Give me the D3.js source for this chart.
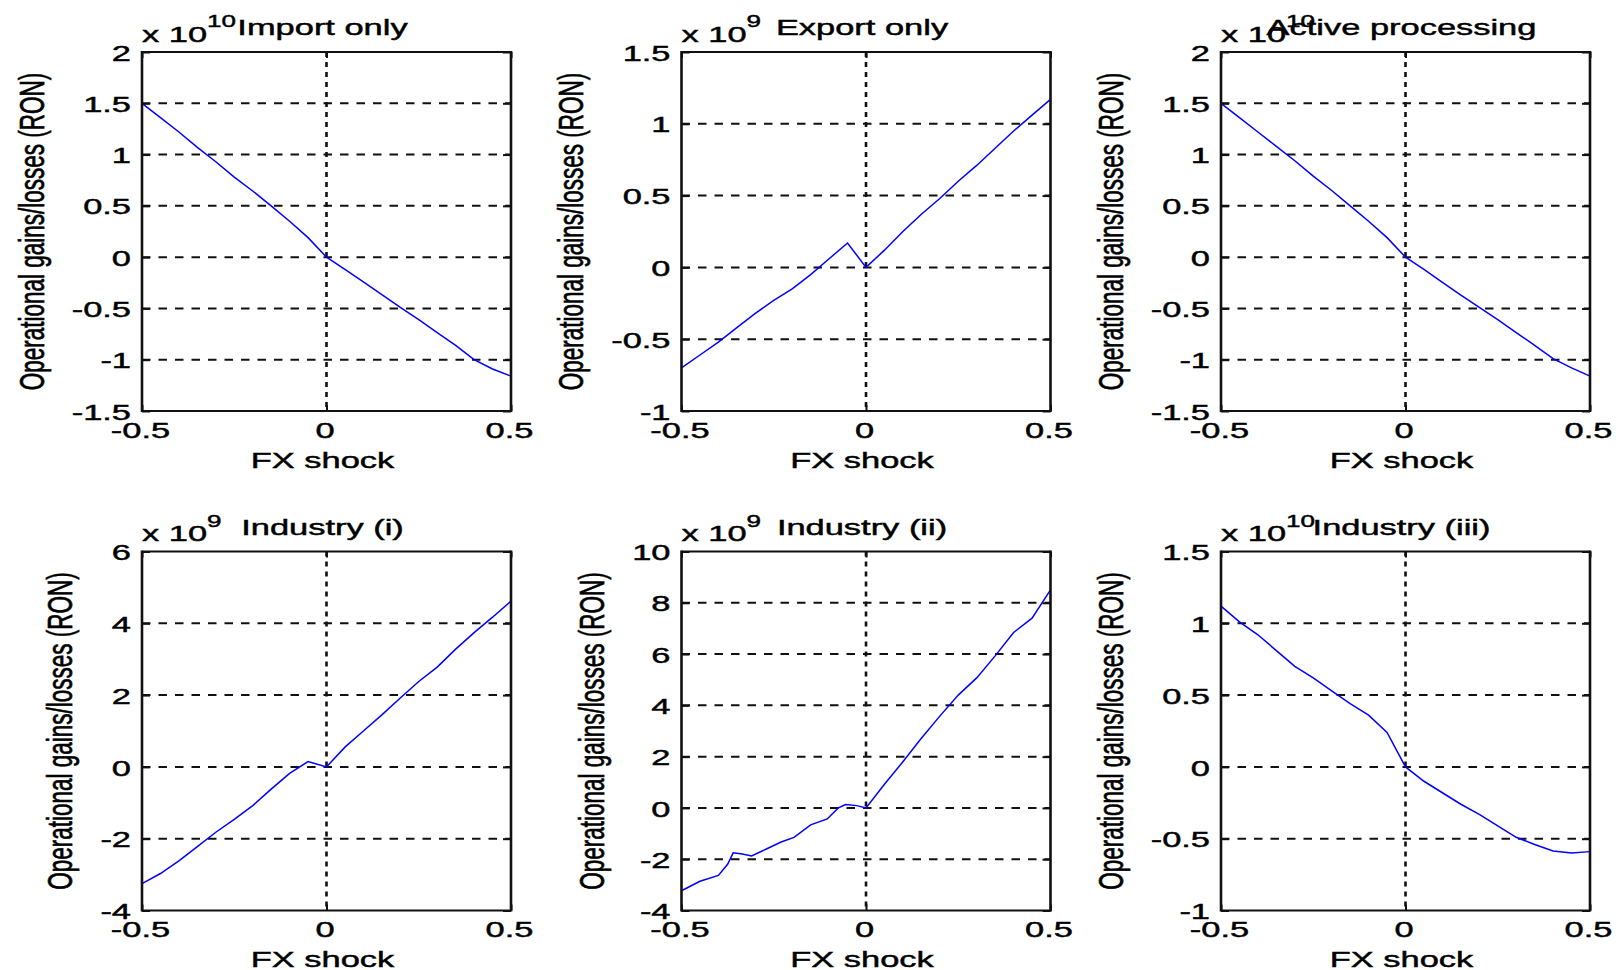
<!DOCTYPE html>
<html>
<head>
<meta charset="utf-8">
<script src="https://cdn.jsdelivr.net/npm/d3@7"></script>
<style>
  body { margin: 0; background: #fff; }
  text { font-family: "Liberation Sans", Arial, sans-serif; fill: #000; stroke: #000; stroke-width: 0.45px; }
</style>
</head>
<body>
<div id="container"></div>
<script>
var width = 1616,
    height = 970,
    colLeft = [142, 681.5, 1221],
    rowTop = [52, 551.5],
    pw = 369,
    ph = 359,
    fontSize = 22.5,
    stretch = 1.53; // text in the picture is stretched sideways

// data
var titles = ['Import only', 'Export only', 'Active processing',
              'Industry (i)', 'Industry (ii)', 'Industry (iii)'];
var exponents = ['10', '9', '10', '9', '9', '10'];
var xTicks = [-0.5, 0, 0.5];
var yTicksA = [-1.5, -1, -0.5, 0, 0.5, 1, 1.5, 2];
var yTicksB = [-1, -0.5, 0, 0.5, 1, 1.5];
var yTicksC = [-4, -2, 0, 2, 4, 6];
var yTicksD = [-4, -2, 0, 2, 4, 6, 8, 10];

var shock = [-0.5, -0.45, -0.4, -0.35, -0.3, -0.25, -0.2, -0.15, -0.1, -0.05, 0,
             0.05, 0.1, 0.15, 0.2, 0.25, 0.3, 0.35, 0.4, 0.45, 0.5];
var shockInd2 = [-0.5, -0.45, -0.4, -0.375, -0.36, -0.335, -0.31, -0.27, -0.23, -0.195, -0.15,
                 -0.105, -0.075, -0.055, -0.025, 0, 0.05, 0.1, 0.15, 0.2, 0.25, 0.3, 0.35, 0.4, 0.45, 0.5];

var importOnly = [1.50, 1.36, 1.22, 1.07, 0.93, 0.78, 0.645, 0.50, 0.35, 0.19, 0,
                  -0.12, -0.24, -0.365, -0.49, -0.61, -0.735, -0.86, -1.0, -1.09, -1.16];
var exportOnly = [-0.70, -0.61, -0.52, -0.42, -0.32, -0.23, -0.15, -0.05, 0.06, 0.17, 0,
                  0.12, 0.25, 0.37, 0.48, 0.60, 0.71, 0.83, 0.95, 1.06, 1.17];
var activeProcessing = [1.50, 1.36, 1.22, 1.08, 0.94, 0.79, 0.65, 0.50, 0.35, 0.19, 0,
                        -0.12, -0.245, -0.37, -0.49, -0.61, -0.735, -0.86, -0.99, -1.08, -1.16];
var industry1 = [-3.25, -2.97, -2.62, -2.22, -1.82, -1.46, -1.08, -0.62, -0.18, 0.15, 0,
                 0.55, 1.00, 1.45, 1.92, 2.38, 2.78, 3.28, 3.74, 4.17, 4.62];
var industry2 = [-3.23, -2.86, -2.63, -2.2, -1.75, -1.80, -1.87, -1.60, -1.33, -1.15, -0.66,
                 -0.43, 0.0, 0.13, 0.09, 0, 0.92, 1.80, 2.72, 3.58, 4.40, 5.07, 5.93, 6.84, 7.40, 8.5];
var industry3 = [1.12, 1.01, 0.92, 0.81, 0.70, 0.62, 0.53, 0.44, 0.36, 0.24, 0,
                 -0.10, -0.18, -0.26, -0.33, -0.41, -0.49, -0.54, -0.585, -0.60, -0.59];

var panels = [
    { x: shock, y: importOnly, ticks: yTicksA },
    { x: shock, y: exportOnly, ticks: yTicksB },
    { x: shock, y: activeProcessing, ticks: yTicksA },
    { x: shock, y: industry1, ticks: yTicksC },
    { x: shockInd2, y: industry2, ticks: yTicksD },
    { x: shock, y: industry3, ticks: yTicksB }
];

var svg = d3.select('#container')
    .append('svg')
    .attr('width', width)
    .attr('height', height);

panels.forEach(function(p, i) {
    var left = colLeft[i % 3],
        top = rowTop[Math.floor(i / 3)];
    var g = svg.append('g')
        .attr('transform', 'translate(' + left + ',' + top + ')');

    var scaleX = d3.scaleLinear().domain([-0.5, 0.5]).range([0, pw]);
    var scaleY = d3.scaleLinear()
        .domain([p.ticks[0], p.ticks[p.ticks.length - 1]])
        .range([ph, 0]);

    // grid
    g.selectAll('.hgrid')
        .data(p.ticks.slice(1, -1))
        .enter().append('line')
        .attr('x1', 0).attr('x2', pw)
        .attr('y1', function(d) { return scaleY(d); })
        .attr('y2', function(d) { return scaleY(d); })
        .attr('stroke', '#111')
        .attr('stroke-width', 2)
        .attr('stroke-dasharray', '8.5,8');
    g.append('line')
        .attr('x1', scaleX(0)).attr('x2', scaleX(0))
        .attr('y1', 0).attr('y2', ph)
        .attr('stroke', '#111')
        .attr('stroke-width', 2.6)
        .attr('stroke-dasharray', '5,5');

    // series
    var line = d3.line()
        .x(function(d, k) { return scaleX(p.x[k]); })
        .y(function(d) { return scaleY(d); });
    g.append('path')
        .attr('d', line(p.y))
        .attr('fill', 'none')
        .attr('stroke', '#0000ff')
        .attr('stroke-width', 1.5);

    // axes
    var yAxis = g.append('g')
        .call(d3.axisLeft(scaleY).tickValues(p.ticks).tickSize(-8).tickFormat(String));
    g.append('g')
        .attr('transform', 'translate(' + pw + ',0)')
        .call(d3.axisRight(scaleY).tickValues(p.ticks).tickSize(-8).tickFormat(''));
    var xAxis = g.append('g')
        .attr('transform', 'translate(0,' + ph + ')')
        .call(d3.axisBottom(scaleX).tickValues(xTicks).tickSize(-6).tickFormat(String));
    g.append('g')
        .call(d3.axisTop(scaleX).tickValues(xTicks).tickSize(-6).tickFormat(''));
    g.selectAll('.domain').remove();
    g.selectAll('.tick line').attr('stroke', '#111').attr('stroke-width', 2);

    yAxis.selectAll('text')
        .attr('x', 0).attr('dy', '0.36em')
        .attr('transform', 'translate(-11,0) scale(' + stretch + ',1)')
        .style('font-size', fontSize + 'px')
        .style('font-family', '"Liberation Sans", Arial, sans-serif')
        .attr('fill', '#000');
    xAxis.selectAll('text')
        .attr('y', 0).attr('dy', null)
        .attr('transform', 'translate(-2,26.5) scale(' + stretch + ',1)')
        .style('font-size', fontSize + 'px')
        .style('font-family', '"Liberation Sans", Arial, sans-serif')
        .attr('fill', '#000');

    // box
    g.append('line').attr('x1', 0).attr('x2', pw).attr('y1', 0).attr('y2', 0)
        .attr('stroke', '#111').attr('stroke-width', 2);
    g.append('line').attr('x1', 0).attr('x2', pw).attr('y1', ph).attr('y2', ph)
        .attr('stroke', '#111').attr('stroke-width', 2);
    g.append('line').attr('x1', 0).attr('x2', 0).attr('y1', -1).attr('y2', ph + 1)
        .attr('stroke', '#111').attr('stroke-width', 2.6);
    g.append('line').attr('x1', pw).attr('x2', pw).attr('y1', -1).attr('y2', ph + 1)
        .attr('stroke', '#111').attr('stroke-width', 2.6);

    // labels
    var tickLeft = yAxis.node().getBBox().x;
    g.append('text')
        .attr('transform', 'translate(' + (tickLeft - 28) + ',' + (ph / 2) + ') rotate(-90) scale(1,' + stretch + ')')
        .attr('text-anchor', 'middle')
        .style('font-size', fontSize + 'px')
        .text('Operational gains/losses (RON)');
    g.append('text')
        .attr('transform', 'translate(' + (pw / 2 - 4) + ',' + (ph + 56.5) + ') scale(' + stretch + ',1)')
        .attr('text-anchor', 'middle')
        .style('font-size', fontSize + 'px')
        .text('FX shock');

    var mult = g.append('text')
        .attr('transform', 'translate(0,-10.5) scale(' + stretch + ',1)')
        .style('font-size', fontSize + 'px');
    mult.append('tspan').text('x 10');
    mult.append('tspan')
        .attr('dy', -14.5)
        .style('font-size', '17px')
        .text(exponents[i]);

    g.append('text')
        .attr('transform', 'translate(' + (pw / 2 - 4) + ',-17) scale(' + stretch + ',1)')
        .attr('text-anchor', 'middle')
        .style('font-size', fontSize + 'px')
        .text(titles[i]);
});
</script>
</body>
</html>
